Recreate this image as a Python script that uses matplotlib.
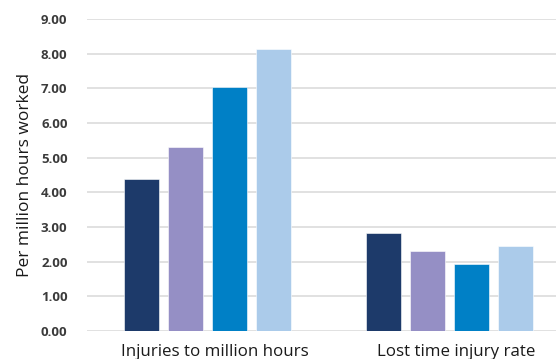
import matplotlib
matplotlib.use('Agg')
import matplotlib.pyplot as plt
import numpy as np

plt.rcParams['font.family'] = ['Open Sans', 'DejaVu Sans']

categories = ['Injuries to million hours', 'Lost time injury rate']
series_1 = [4.38, 2.83]
series_2 = [5.31, 2.31]
series_3 = [7.04, 1.93]
series_4 = [8.13, 2.45]
colors = ['#1d3a6a', '#958fc5', '#0080c6', '#abcbea']
yticks = [0, 1, 2, 3, 4, 5, 6, 7, 8, 9]

fig = plt.figure(figsize=(5.56, 3.59), dpi=100)
ax = fig.add_axes([87 / 556, 1 - 331 / 359, (570 - 87) / 556, (331 - 19) / 359])

x = np.arange(len(categories))
step = 0.182
width = 0.145
for i, (vals, c) in enumerate(zip([series_1, series_2, series_3, series_4], colors)):
    ax.bar(x + (i - 1.5) * step, vals, width, color=c, edgecolor='white',
           linewidth=0.4, zorder=3)

ax.set_xlim(-0.5, 1.5)
ax.set_ylim(0, 9)
ax.set_yticks(yticks)
ax.set_yticklabels([f'{v:.2f}' for v in yticks], fontsize=9.5,
                   fontweight='bold', color='#3b3b3b')
# category labels sit slightly right of the bar group centres
ax.set_xticks(x + 0.029)
ax.set_xticklabels(categories, fontsize=12.2, color='#1a1a1a')
ax.tick_params(axis='both', length=0)
ax.tick_params(axis='y', pad=14)
ax.tick_params(axis='x', pad=9)
ax.grid(axis='y', color='#dcdcdc', linewidth=1.2, zorder=0)
for s in ax.spines.values():
    s.set_visible(False)
ax.set_ylabel('Per million hours worked', fontsize=12.5, color='#1a1a1a', labelpad=5.5)

fig.savefig('out.png', dpi=100)
